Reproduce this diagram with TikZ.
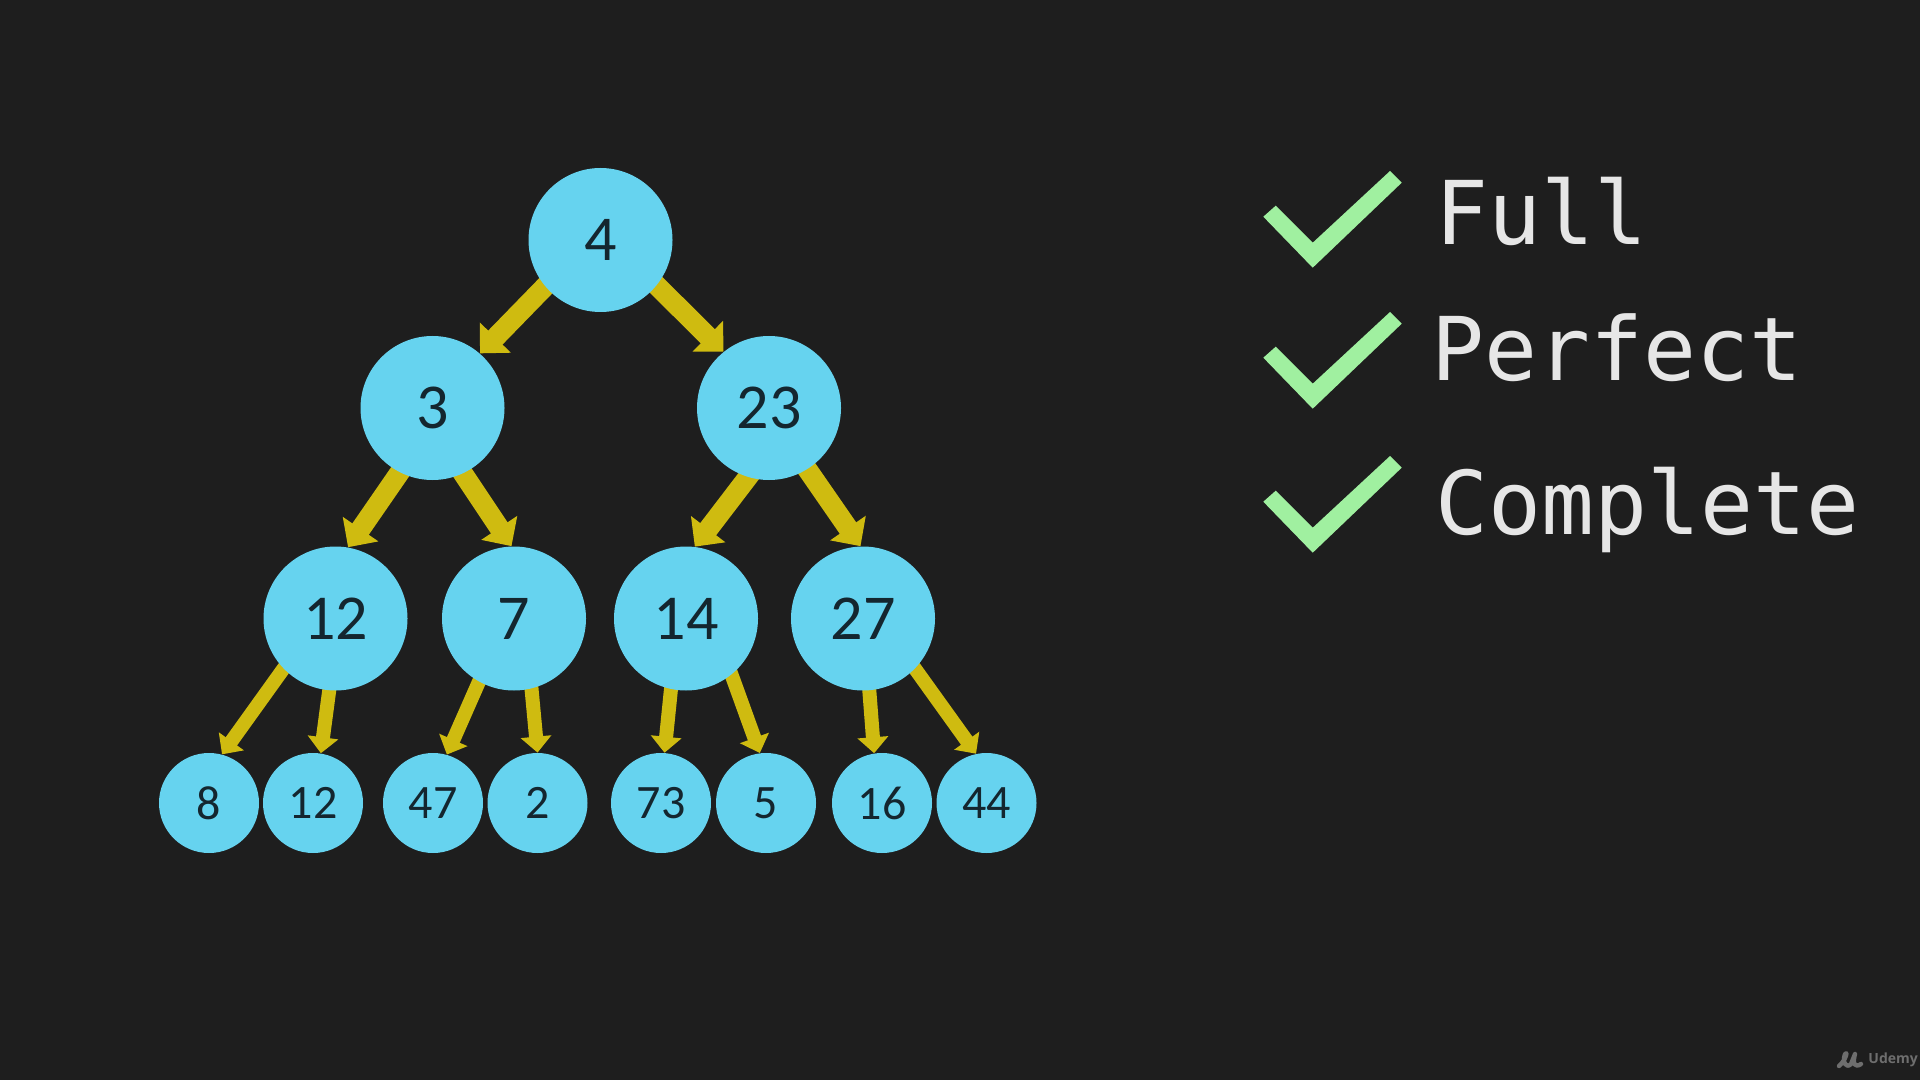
\documentclass[tikz,border=0pt]{standalone}
\usepackage{fontspec}
\setmainfont{Carlito}
\newfontfamily\labelfont{DejaVu Sans Mono}
\newfontfamily\logofont{Open Sans}
\usetikzlibrary{arrows.meta,backgrounds}
\definecolor{bgdark}{HTML}{1E1E1E}
\definecolor{nodeblue}{HTML}{66D3EF}
\definecolor{inkdark}{HTML}{14262F}
\definecolor{arrowgold}{HTML}{CFBB10}
\definecolor{checkgreen}{HTML}{A0F0A0}
\definecolor{labelgrey}{HTML}{E6E6E6}
\definecolor{logogrey}{HTML}{6E6E6E}
\tikzset{
  bignode/.style={circle,fill=nodeblue,text=inkdark,inner sep=0pt,minimum size=72pt,font=\fontsize{32}{32}\selectfont},
  smallnode/.style={circle,fill=nodeblue,text=inkdark,inner sep=0pt,minimum size=50pt,font=\fontsize{24}{24}\selectfont},
  thickedge/.style={draw=arrowgold,line width=10pt,-{Triangle[length=11pt,width=21pt]}},
  thinedge/.style={draw=arrowgold,line width=7pt,-{Triangle[length=8pt,width=15pt]}},
  checkmark/.style={fill=checkgreen,draw=none},
  textlabel/.style={anchor=base west,inner sep=0pt,text=labelgrey,font=\labelfont\fontsize{44}{44}\selectfont},
}
\begin{document}
\begin{tikzpicture}[x=0.5pt,y=-0.5pt]
\useasboundingbox (0,0) rectangle (1920,1080);
\node[bignode] (n4) at (600.5,240) {4};
\node[bignode] (n3) at (432.5,408) {3};
\node[bignode] (n23) at (769,408) {23};
\node[bignode] (n12) at (335.5,618.5) {12};
\node[bignode] (n7) at (514,618.5) {7};
\node[bignode] (n14) at (686,618.5) {14};
\node[bignode] (n27) at (863,618.5) {27};
\node[smallnode] (l8) at (209,803) {8};
\node[smallnode] (l12) at (313,803) {12};
\node[smallnode] (l47) at (433,803) {47};
\node[smallnode] (l2) at (537.5,803) {2};
\node[smallnode] (l73) at (661,803) {73};
\node[smallnode] (l5) at (766,803) {5};
\node[smallnode] (l16) at (882,803) {16};
\node[smallnode] (l44) at (986.5,803) {44};
\begin{scope}[on background layer]
\fill[bgdark] (0,0) rectangle (1920,1080);
\draw[thickedge,shorten <=-3pt] (n4.-140) -- (n3.49);
\draw[thickedge,shorten <=-3pt] (n4.-39) -- (n23.129);
\draw[thickedge,shorten <=-3pt] (n3.-117) -- (n12.80);
\draw[thickedge,shorten <=-3pt] (n3.-65) -- (n7.92);
\draw[thickedge,shorten <=-3pt] (n23.-107) -- (n14.83);
\draw[thickedge,shorten <=-3pt] (n23.-58) -- (n27.92);
\draw[thinedge,shorten <=-3pt] (n12.-136) -- (l8.75);
\draw[thinedge,shorten <=-3pt] (n12.-95) -- (l12.81);
\draw[thinedge,shorten <=-3pt] (n7.-119) -- (l47.74);
\draw[thinedge,shorten <=-3pt] (n7.-76) -- (l2.90);
\draw[thinedge,shorten <=-3pt] (n14.-102) -- (l73.86);
\draw[thinedge,shorten <=-3pt] (n14.-51) -- (l5.97);
\draw[thinedge,shorten <=-3pt] (n27.-85) -- (l16.99);
\draw[thinedge,shorten <=-3pt] (n27.-44) -- (l44.102);
\end{scope}
\foreach \dy in {0,141,285}{
  \fill[checkmark,yshift=-0.5pt*\dy] (1263.3,216.7) -- (1275.7,205.7) -- (1312.7,242.7) -- (1390,171) -- (1401.7,182.7) -- (1312.7,267.7) -- cycle;
}
\node[textlabel] (tfull) at (1435,245) {Full};
\node[textlabel] (tperfect) at (1431,380) {Perfect};
\node[textlabel] (tcomplete) at (1435,534) {Complete};
\draw[logogrey,line width=2.2pt,line cap=round,line join=round] (1839,1066) .. controls (1846,1060) and (1848,1050) .. (1845,1054) .. controls (1842,1062) and (1846,1069) .. (1851,1064) -- (1855,1054) .. controls (1852,1064) and (1855,1068) .. (1861,1064);
\node[anchor=base west,inner sep=0pt,text=logogrey,font=\logofont\bfseries\fontsize{7}{7}\selectfont] (tlogo) at (1868,1063) {Udemy};
\end{tikzpicture}
\end{document}
